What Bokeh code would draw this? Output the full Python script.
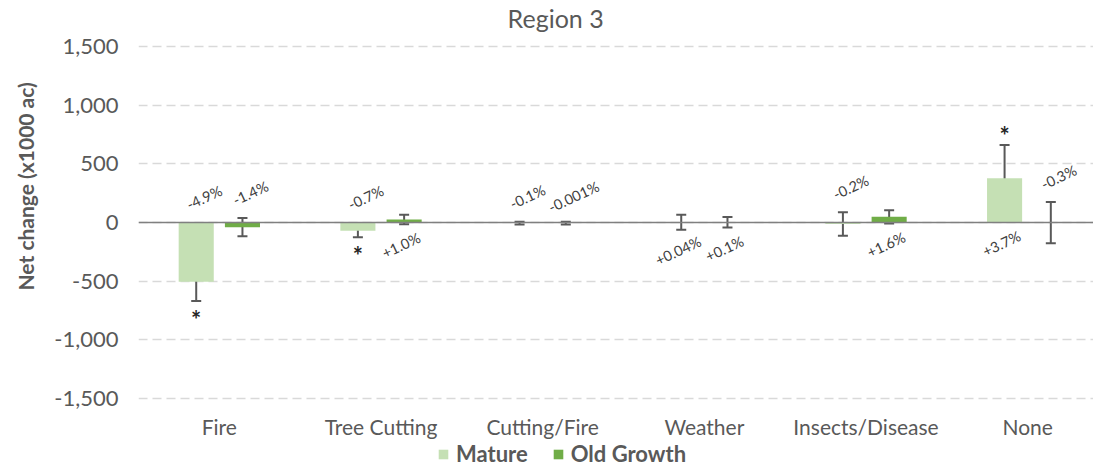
from bokeh.plotting import figure
from bokeh.models import (ColumnDataSource, Whisker, TeeHead, Span, FixedTicker,
                          NumeralTickFormatter, Label, Legend, LegendItem, Range1d, Title)
from bokeh.core.properties import value
from bokeh.embed import file_html
from bokeh.resources import INLINE

# ---------------- data ----------------
categories = ["Fire", "Tree Cutting", "Cutting/Fire", "Weather", "Insects/Disease", "None"]
mature = [-505, -70, -5, 2, -13, 377]
mature_err = [165, 55, 12, 63, 100, 283]
old_growth = [-40, 25, -5, 2, 48, -2]
old_growth_err = [78, 40, 12, 45, 57, 176]
mature_pct = ["-4.9%", "-0.7%", "-0.1%", "+0.04%", "-0.2%", "+3.7%"]
old_growth_pct = ["-1.4%", "+1.0%", "-0.001%", "+0.1%", "+1.6%", "-0.3%"]
mature_sig = [True, True, False, False, False, True]
old_growth_sig = [False, False, False, False, False, False]
series_names = ["Mature", "Old Growth"]
y_ticks = [-1500, -1000, -500, 0, 500, 1000, 1500]

# ---------------- style / layout ----------------
FONT = "Lato"
TXT = "#595959"
C_MATURE = "#c5e0b4"
C_OLD = "#70ad47"
GROUP_OFF = 0.143
BAR_W = 0.217
X_END = 5.907
Y_LO, Y_HI = -2097, 1892      # frame spans whole height; ticks fixed at +-1500
TITLE_X = 2.58
TITLE_Y = 1739
CAT_Y = -1739

p = figure(width=1093, height=468, output_backend="svg", toolbar_location=None,
           x_range=Range1d(0, X_END), y_range=Range1d(Y_LO, Y_HI),
           x_axis_location=None,
           min_border_left=136, min_border_right=0, min_border_top=0, min_border_bottom=0)
p.outline_line_color = None
p.background_fill_color = "white"
p.border_fill_color = "white"
p.xgrid.visible = False
p.ygrid.ticker = FixedTicker(ticks=y_ticks)
p.ygrid.grid_line_color = "#d9d9d9"
p.ygrid.grid_line_dash = "9 5"
p.ygrid.grid_line_width = 1.5

centers = [i + 0.5 for i in range(len(categories))]

# y axis
p.yaxis.ticker = FixedTicker(ticks=y_ticks)
p.yaxis.formatter = NumeralTickFormatter(format="0,0")
p.yaxis.axis_line_color = None
p.yaxis.major_tick_line_color = None
p.yaxis.minor_tick_line_color = None
p.yaxis.major_label_standoff = 14
p.yaxis.major_label_text_font = FONT
p.yaxis.major_label_text_font_size = "22px"
p.yaxis.major_label_text_color = TXT

# y axis title (as a left-side title so it can sit where the reference has it)
p.add_layout(Title(text="Net change (x1000 ac)", align="left", vertical_align="top",
                   offset=178, standoff=24,
                   text_font=FONT, text_font_size="21px", text_font_style="bold",
                   text_color=TXT), "left")

# category labels
p.text(x=centers, y=[CAT_Y] * len(centers), text=categories,
       text_font=value(FONT), text_font_size="21px", text_color=TXT,
       text_align="center", text_baseline="middle")

# zero line
p.add_layout(Span(location=0, dimension="width", line_color="#808080", line_width=1.6))

renderers = []
for k, (vals, errs, pcts, sigs, color, off) in enumerate([
        (mature, mature_err, mature_pct, mature_sig, C_MATURE, -GROUP_OFF),
        (old_growth, old_growth_err, old_growth_pct, old_growth_sig, C_OLD, GROUP_OFF)]):
    xs = [c + off for c in centers]
    lo = [v - e for v, e in zip(vals, errs)]
    hi = [v + e for v, e in zip(vals, errs)]
    src = ColumnDataSource(dict(x=xs, top=vals, lower=lo, upper=hi))
    r = p.vbar(x="x", top="top", bottom=0, width=BAR_W, source=src,
               fill_color=color, line_color=None)
    renderers.append(r)
    w = Whisker(base="x", lower="lower", upper="upper", source=src,
                line_color="#595959", line_width=2,
                upper_head=TeeHead(size=10, line_color="#595959", line_width=2),
                lower_head=TeeHead(size=10, line_color="#595959", line_width=2))
    p.add_layout(w)

    # percentage labels
    ly, lyo, lxo = [], [], []
    for t, l_, h_ in zip(pcts, lo, hi):
        if t.startswith("-"):
            ly.append(max(0, h_)); lyo.append(-25); lxo.append(8)
        else:
            ly.append(min(0, l_)); lyo.append(21); lxo.append(-3)
    lsrc = ColumnDataSource(dict(x=xs, y=ly, yo=lyo, xo=lxo, t=pcts))
    p.text(x="x", y="y", text="t", y_offset="yo", x_offset="xo", source=lsrc, angle=0.436,
           text_font=value(FONT), text_font_size="14.5px", text_color="#404040",
           text_align="center", text_baseline="middle")

    # significance stars
    sx, sy, syo = [], [], []
    for x_, v, l_, h_, s in zip(xs, vals, lo, hi, sigs):
        if s:
            sx.append(x_)
            if v < 0:
                sy.append(l_); syo.append(18)
            else:
                sy.append(h_); syo.append(-10)
    ssrc = ColumnDataSource(dict(x=sx, y=sy, yo=syo, t=["*"] * len(sx)))
    p.text(x="x", y="y", text="t", y_offset="yo", source=ssrc,
           text_font=value(FONT), text_font_size="24px", text_font_style="bold",
           text_color="#262626", text_align="center", text_baseline="middle")

# chart title
p.add_layout(Label(x=TITLE_X, y=TITLE_Y, text="Region 3", text_align="center",
                   text_baseline="middle", text_font=FONT, text_font_size="25px",
                   text_color=TXT))

legend = Legend(items=[LegendItem(label=series_names[0], renderers=[renderers[0]]),
                       LegendItem(label=series_names[1], renderers=[renderers[1]])],
                location=(299, 1), orientation="horizontal",
                glyph_width=12, glyph_height=12, label_standoff=7, spacing=24,
                padding=0, margin=0, label_height=12,
                label_text_font=FONT, label_text_font_size="22px",
                label_text_font_style="bold", label_text_color=TXT,
                border_line_color=None, background_fill_alpha=0)
p.add_layout(legend)

open("out.html", "w").write(file_html(p, INLINE))
